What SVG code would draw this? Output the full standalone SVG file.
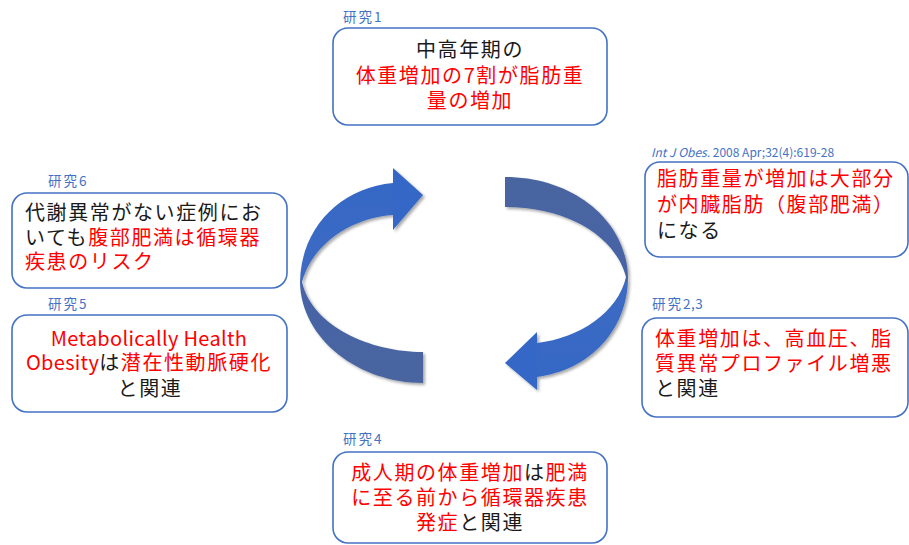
<svg xmlns="http://www.w3.org/2000/svg" width="909" height="545" viewBox="0 0 909 545">
<style>
.box{fill:#ffffff;stroke:#4472c4;stroke-width:1.6}
.t{font-family:"Noto Sans CJK JP","Noto Sans",sans-serif;font-size:20px;letter-spacing:1.6px;fill:#1a1a1a}
.r{fill:#ff0000}
.lat{letter-spacing:0.3px}
.lb{font-family:"Noto Sans CJK JP","Noto Sans",sans-serif;font-size:13.5px;letter-spacing:2px;fill:#4472c4}
.num{letter-spacing:0.5px}
.ref{font-family:"Noto Sans CJK JP","Noto Sans",sans-serif;font-size:12px;fill:#4472c4}
.m{text-anchor:middle}
</style>
<defs>
<linearGradient id="gL" gradientUnits="userSpaceOnUse" x1="0" y1="170" x2="0" y2="385">
<stop offset="0" stop-color="#3468c6"/>
<stop offset="0.5" stop-color="#3d6ac2"/>
<stop offset="0.53" stop-color="#4564a6"/>
<stop offset="1" stop-color="#4a65a0"/>
</linearGradient>
<linearGradient id="gR" gradientUnits="userSpaceOnUse" x1="0" y1="177" x2="0" y2="390">
<stop offset="0" stop-color="#4a65a0"/>
<stop offset="0.47" stop-color="#4564a6"/>
<stop offset="0.5" stop-color="#3d6ac2"/>
<stop offset="1" stop-color="#3468c6"/>
</linearGradient>
<filter id="sh" x="-10%" y="-10%" width="130%" height="130%">
<feGaussianBlur in="SourceAlpha" stdDeviation="1.5"/>
<feOffset dx="1.5" dy="2" result="b"/>
<feComponentTransfer><feFuncA type="linear" slope="0.35"/></feComponentTransfer>
<feMerge><feMergeNode/><feMergeNode in="SourceGraphic"/></feMerge>
</filter>
</defs>
<rect width="909" height="545" fill="#ffffff"/>

<g id="connectors" filter="url(#sh)">
<path d="M 393 183 C 340 188 301 228 300 282 C 301 340 360 383 423 383 L 423 352 C 370 352 312 326 302 282 C 312 245 350 218 393 215 Z" fill="url(#gL)"/>
<polygon points="393,168 423,195 393,230" fill="#3468c6"/>
<path d="M 505 177 C 575 177 627 222 628 277 C 628 330 590 370 537 377 L 537 343 C 580 338 618 312 626 277 C 616 238 570 207 505 207 Z" fill="url(#gR)"/>
<polygon points="537,332 505,363 537,390" fill="#3468c6"/>
</g>

<g id="study1">
<text class="lb" x="343" y="22">研究<tspan class="num">1</tspan></text>
<rect class="box" x="333" y="28" width="274" height="97" rx="15"/>
<text class="t m" x="470" y="57">中高年期の</text>
<text class="t m r" x="470" y="83">体重増加の7割が脂肪重</text>
<text class="t m r" x="470" y="108">量の増加</text>
</g>

<g id="ref-note">
<text class="ref" x="651" y="157"><tspan font-style="italic">Int J Obes.</tspan> 2008 Apr;32(4):619-28</text>
<rect class="box" x="645" y="162" width="263" height="95" rx="15"/>
<text class="t r" x="657" y="186">脂肪重量が増加は大部分</text>
<text class="t r" x="657" y="212">が内臓脂肪（腹部肥満）</text>
<text class="t" x="657" y="238">になる</text>
</g>

<g id="study23">
<text class="lb" x="652" y="309">研究<tspan class="num">2,3</tspan></text>
<rect class="box" x="642" y="318" width="266" height="99" rx="15"/>
<text class="t r" x="655" y="346">体重増加は、高血圧、脂</text>
<text class="t r" x="655" y="371">質異常プロファイル増悪</text>
<text class="t" x="655" y="396">と関連</text>
</g>

<g id="study6">
<text class="lb" x="48" y="186">研究<tspan class="num">6</tspan></text>
<rect class="box" x="12" y="193" width="275" height="95" rx="15"/>
<text class="t" x="25" y="220">代謝異常がない症例にお</text>
<text class="t" x="25" y="245">いても<tspan class="r">腹部肥満は循環器</tspan></text>
<text class="t r" x="25" y="269">疾患のリスク</text>
</g>

<g id="study5">
<text class="lb" x="48" y="309">研究<tspan class="num">5</tspan></text>
<rect class="box" x="12" y="315" width="275" height="97" rx="15"/>
<text class="t m r lat" x="149" y="346">Metabolically Health</text>
<text class="t m" x="149" y="370"><tspan class="r lat">Obesity</tspan>は<tspan class="r">潜在性動脈硬化</tspan></text>
<text class="t m" x="150" y="396">と関連</text>
</g>

<g id="study4">
<text class="lb" x="343" y="444">研究<tspan class="num">4</tspan></text>
<rect class="box" x="333" y="452" width="274" height="91" rx="15"/>
<text class="t m" x="470" y="480"><tspan class="r">成人期の体重増加</tspan>は<tspan class="r">肥満</tspan></text>
<text class="t m r" x="470" y="505">に至る前から循環器疾患</text>
<text class="t m" x="470" y="530"><tspan class="r">発症</tspan>と関連</text>
</g>
</svg>
